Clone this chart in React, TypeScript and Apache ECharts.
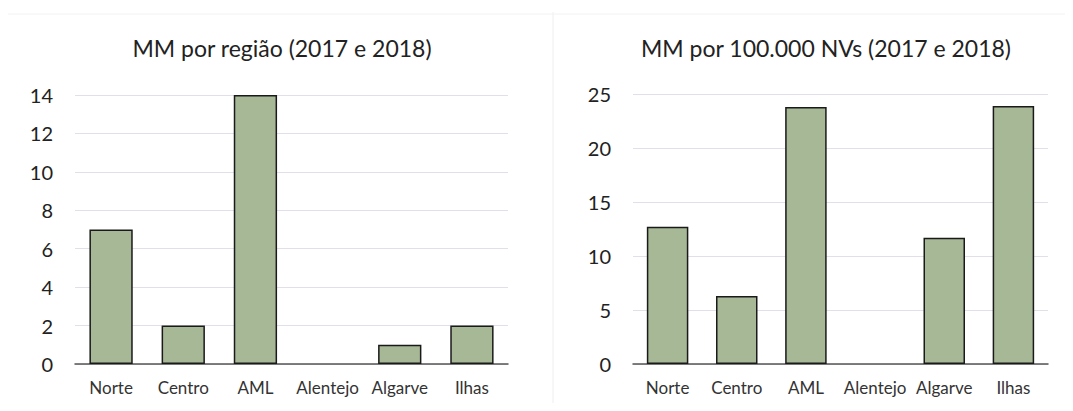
import React, { useEffect, useRef } from "react";
import * as echarts from "echarts";

const categories = ["Norte", "Centro", "AML", "Alentejo", "Algarve", "Ilhas"];
const mmPorRegiao = [7, 2, 14, 0, 1, 2];
const mmPor100k = [12.7, 6.3, 23.8, 0, 11.7, 23.9];
const title1 = "MM por região (2017 e 2018)";
const title2 = "MM por 100.000 NVs (2017 e 2018)";

const FONT = "Lato, 'Open Sans', sans-serif";
const BAR_COLOR = "#a7b896";

function toItems(values: number[]) {
  return values.map((v) => (v === 0 ? { value: v, itemStyle: { borderWidth: 0 } } : v));
}

export default function App() {
  const ref = useRef<HTMLDivElement>(null);
  useEffect(() => {
    if (!ref.current) return;
    const chart = echarts.init(ref.current, null, { renderer: "svg" });
    const xAxisCommon = {
      type: "category" as const,
      data: categories,
      axisTick: { show: false },
      axisLine: { lineStyle: { color: "#555", width: 1.5 } },
      axisLabel: { color: "#333", fontSize: 17, fontFamily: FONT, margin: 15, interval: 0 },
    };
    const yAxisCommon = {
      type: "value" as const,
      axisLine: { show: false },
      axisTick: { show: false },
      splitLine: { lineStyle: { color: "#e2dfea", width: 1 } },
      axisLabel: { color: "#222", fontSize: 20, fontFamily: FONT, margin: 22 },
    };
    const titleStyle = { fontSize: 23, fontWeight: "normal" as const, color: "#222", fontFamily: FONT };
    chart.setOption({
      animation: false,
      backgroundColor: "#ffffff",
      title: [
        { text: title1, left: 269, top: 23, textAlign: "center", textStyle: titleStyle },
        { text: title2, left: 813, top: 23, textAlign: "center", textStyle: titleStyle },
      ],
      grid: [
        { left: 67, top: 87, width: 433, height: 269, containLabel: false },
        { left: 625, top: 86, width: 415, height: 270, containLabel: false },
      ],
      xAxis: [
        { ...xAxisCommon, gridIndex: 0 },
        { ...xAxisCommon, gridIndex: 1 },
      ],
      yAxis: [
        { ...yAxisCommon, gridIndex: 0, min: 0, max: 14, interval: 2 },
        { ...yAxisCommon, gridIndex: 1, min: 0, max: 25, interval: 5 },
      ],
      graphic: [
        { type: "line", shape: { x1: 545, y1: 4, x2: 545, y2: 395 }, style: { stroke: "#eeeeee", lineWidth: 1 } },
        { type: "line", shape: { x1: 0, y1: 6, x2: 1065, y2: 6 }, style: { stroke: "#f2f2f2", lineWidth: 1 } },
      ],
      series: [
        {
          type: "bar",
          xAxisIndex: 0,
          yAxisIndex: 0,
          data: toItems(mmPorRegiao),
          barWidth: "60%",
          itemStyle: { color: BAR_COLOR, borderColor: "#1a1a1a", borderWidth: 1.5 },
        },
        {
          type: "bar",
          xAxisIndex: 1,
          yAxisIndex: 1,
          data: toItems(mmPor100k),
          barWidth: "60%",
          itemStyle: { color: BAR_COLOR, borderColor: "#1a1a1a", borderWidth: 1.5 },
        },
      ],
    });
    return () => chart.dispose();
  }, []);
  return <div ref={ref} style={{ width: 1065, height: 395 }} />;
}
